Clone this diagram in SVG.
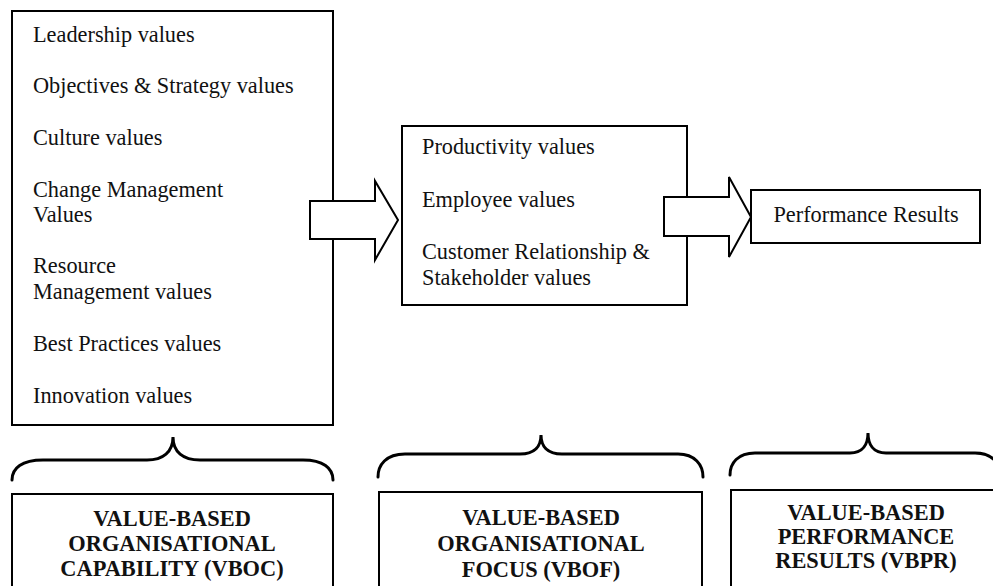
<svg xmlns="http://www.w3.org/2000/svg" width="993" height="586" viewBox="0 0 993 586">
<style>
  .box { fill: #fff; stroke: #000; stroke-width: 2; }
  .arrow { fill: #fff; stroke: #000; stroke-width: 2; stroke-linejoin: miter; }
  .brace { fill: none; stroke: #000; stroke-width: 3; stroke-linecap: round; }
  .t { font-family: "Liberation Serif", "Times New Roman", serif; font-size: 22.3px; fill: #111; }
  .b { font-family: "Liberation Serif", "Times New Roman", serif; font-size: 22.4px; font-weight: bold; fill: #111; text-anchor: middle; }
</style>
<rect width="993" height="586" fill="#fff"/>
<g id="vboc-box">
  <rect class="box" x="12" y="11" width="321" height="414"/>
  <text class="t" x="33" y="42">Leadership values</text>
  <text class="t" x="33" y="93">Objectives &amp; Strategy values</text>
  <text class="t" x="33" y="145">Culture values</text>
  <text class="t" x="33" y="197">Change Management</text>
  <text class="t" x="33" y="222">Values</text>
  <text class="t" x="33" y="273">Resource</text>
  <text class="t" x="33" y="299">Management values</text>
  <text class="t" x="33" y="351">Best Practices values</text>
  <text class="t" x="33" y="403">Innovation values</text>
</g>
<g id="vbof-box">
  <rect class="box" x="402" y="126" width="285" height="179"/>
  <text class="t" x="422" y="154">Productivity values</text>
  <text class="t" x="422" y="207">Employee values</text>
  <text class="t" x="422" y="259">Customer Relationship &amp;</text>
  <text class="t" x="422" y="285">Stakeholder values</text>
</g>
<g id="vbpr-box">
  <rect class="box" x="751" y="190" width="229" height="53"/>
  <text class="t" x="866" y="222" text-anchor="middle">Performance Results</text>
</g>
<g id="connectors">
  <polygon class="arrow" points="310,201 375,201 375,181 398,220 375,260 375,239 310,239"/>
  <polygon class="arrow" points="664,197 729,197 729,177 751,217 729,257 729,236 664,236"/>
</g>
<g id="braces">
  <path class="brace" d="M12,480 C12,468 22,460 43,460 L147,460 C163,460 173,452 173,437 C173,452 183,460 200,460 L303,460 C323,460 333,468 333,480"/>
  <path class="brace" d="M378,477 C378,465 386,454 405,454 L520,454 C535,454 541,446 541,435 C541,446 547,454 562,454 L678,454 C695,454 703,465 703,477"/>
  <path class="brace" d="M730,475 C730,463 738,453 755,453 L850,453 C863,453 868,444 868,433 C868,444 873,453 886,453 L975,453 C992,453 1000,463 1000,475"/>
</g>
<g id="vboc-label">
  <rect class="box" x="12" y="494" width="321" height="110"/>
  <text class="b" x="172" y="526">VALUE-BASED</text>
  <text class="b" x="172" y="551">ORGANISATIONAL</text>
  <text class="b" x="172" y="576">CAPABILITY (VBOC)</text>
</g>
<g id="vbof-label">
  <rect class="box" x="379" y="492" width="323" height="110"/>
  <text class="b" x="541" y="525">VALUE-BASED</text>
  <text class="b" x="541" y="551">ORGANISATIONAL</text>
  <text class="b" x="541" y="577">FOCUS (VBOF)</text>
</g>
<g id="vbpr-label">
  <rect class="box" x="731" y="490" width="280" height="110"/>
  <text class="b" x="866" y="520">VALUE-BASED</text>
  <text class="b" x="866" y="544">PERFORMANCE</text>
  <text class="b" x="866" y="568">RESULTS (VBPR)</text>
</g>
</svg>
